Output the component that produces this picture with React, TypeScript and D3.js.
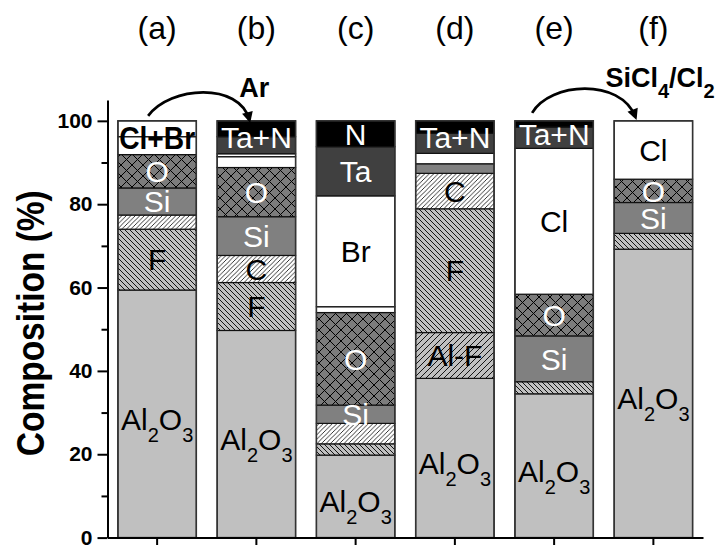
import * as d3 from "d3";
import { useRef, useEffect } from "react";

const panels = ["(a)", "(b)", "(c)", "(d)", "(e)", "(f)"];

// layers listed bottom -> top, thickness in %
const layersA = ["Al2O3", "F", "C", "Si", "O", "Cl", "Br"];
const valuesA = [59.4, 14.6, 3.4, 6.5, 8.0, 4.3, 3.8];
const labelsA = ["Al2O3", "F", "Si", "O", "Cl+Br"];

const layersB = ["Al2O3", "F", "C", "Si", "O", "Cl", "Br", "Ta", "N"];
const valuesB = [49.7, 11.5, 6.5, 9.3, 11.8, 2.6, 0.7, 4.1, 3.8];
const labelsB = ["Al2O3", "F", "C", "Si", "O", "Ta+N"];

const layersC = ["Al2O3", "F", "C", "Si", "O", "Cl", "Br", "Ta", "N"];
const valuesC = [19.8, 2.7, 4.9, 4.4, 22.2, 1.4, 26.6, 11.8, 6.2];
const labelsC = ["Al2O3", "Si", "O", "Br", "Ta", "N"];

const layersD = ["Al2O3", "Al-F", "F", "C", "Si", "Cl", "Ta", "N"];
const valuesD = [38.2, 11.0, 29.7, 8.5, 2.3, 2.5, 4.8, 3.0];
const labelsD = ["Al2O3", "Al-F", "F", "C", "Ta+N"];

const layersE = ["Al2O3", "F", "Si", "O", "Cl", "Ta", "N"];
const valuesE = [34.5, 2.9, 11.0, 10.0, 35.0, 5.1, 1.5];
const labelsE = ["Al2O3", "Si", "O", "Cl", "Ta+N"];

const layersF = ["Al2O3", "F", "Si", "O", "Cl"];
const valuesF = [69.2, 3.8, 7.4, 5.6, 14.0];
const labelsF = ["Al2O3", "Si", "O", "Cl"];

const yTicks = [0, 20, 40, 60, 80, 100];
const yMinorTicks = [10, 30, 50, 70, 90];

const bars = [
  { layers: layersA, values: valuesA, labels: labelsA },
  { layers: layersB, values: valuesB, labels: labelsB },
  { layers: layersC, values: valuesC, labels: labelsC },
  { layers: layersD, values: valuesD, labels: labelsD },
  { layers: layersE, values: valuesE, labels: labelsE },
  { layers: layersF, values: valuesF, labels: labelsF },
];

const FONT = "'Liberation Sans', Arial, Helvetica, sans-serif";

const fills: Record<string, string> = {
  Al2O3: "#c0c0c0",
  F: "url(#hatchF)",
  C: "url(#hatchC)",
  "Al-F": "url(#hatchAlF)",
  Si: "#808080",
  O: "url(#crossO)",
  Cl: "#ffffff",
  Br: "#ffffff",
  Ta: "#404040",
  N: "#000000",
};
const whiteText = ["O", "Si", "Ta", "N", "Ta+N"];

export default function App() {
  const width = 722;
  const height = 545;
  const gx = useRef<SVGGElement | null>(null);
  const gy = useRef<SVGGElement | null>(null);
  const gyMinor = useRef<SVGGElement | null>(null);

  const x = d3.scaleBand<string>().domain(panels).range([107.5, 703]).paddingInner(0.21).paddingOuter(0.105);
  const y = d3.scaleLinear([0, 105], [537.6, 100]);
  const cx = (i: number) => (x(panels[i]) as number) + x.bandwidth() / 2;
  const y100 = y(100);

  useEffect(() => {
    if (gy.current) {
      const g = d3.select(gy.current);
      g.call(d3.axisLeft(y).tickValues(yTicks).tickSize(10).tickSizeOuter(0).tickPadding(5));
      g.select(".domain").attr("stroke-width", 2);
      g.selectAll(".tick line").attr("stroke-width", 2);
      g.selectAll(".tick text")
        .attr("font-size", 21)
        .attr("font-weight", "bold")
        .attr("font-family", FONT)
        .attr("fill", "#000");
    }
    if (gyMinor.current) {
      const g = d3.select(gyMinor.current);
      g.call(d3.axisLeft(y).tickValues(yMinorTicks).tickSize(6).tickFormat(() => ""));
      g.select(".domain").remove();
      g.selectAll(".tick line").attr("stroke-width", 2);
    }
    if (gx.current) {
      const g = d3.select(gx.current);
      g.call(d3.axisBottom(x).tickSize(10).tickSizeOuter(0).tickFormat(() => ""));
      g.select(".domain").attr("stroke-width", 2);
      g.selectAll(".tick line").attr("stroke-width", 2);
    }
  }, [x, y]);

  return (
    <svg
      width={width}
      height={height}
      style={{ position: "absolute", left: 0, top: 0, background: "#fff" }}
      fontFamily={FONT}
    >
      <defs>
        <pattern id="hatchF" width="5" height="5" patternUnits="userSpaceOnUse">
          <rect width="5" height="5" fill="#c0c0c0" />
          <path d="M-1,-1 L6,6 M-1,4 L1,6 M4,-1 L6,1" stroke="#000" strokeWidth="0.9" />
        </pattern>
        <pattern id="hatchC" width="4.5" height="4.5" patternUnits="userSpaceOnUse">
          <rect width="4.5" height="4.5" fill="#fff" />
          <path d="M-1,5.5 L5.5,-1 M-1,1 L1,-1 M3.5,5.5 L5.5,3.5" stroke="#000" strokeWidth="0.8" />
        </pattern>
        <pattern id="hatchAlF" width="6" height="6" patternUnits="userSpaceOnUse">
          <rect width="6" height="6" fill="#c0c0c0" />
          <path d="M-1,7 L7,-1 M-1,1 L1,-1 M5,7 L7,5" stroke="#000" strokeWidth="0.9" />
        </pattern>
        <pattern id="crossO" width="11" height="11" patternUnits="userSpaceOnUse">
          <rect width="11" height="11" fill="#7c7c7c" />
          <path d="M0,0 L11,11 M11,0 L0,11" stroke="#000" strokeWidth="1" />
        </pattern>
        <marker
          id="arrowHead"
          viewBox="0 0 10 10"
          refX="7"
          refY="5"
          markerUnits="userSpaceOnUse"
          markerWidth="14"
          markerHeight="11"
          orient="auto"
        >
          <path d="M0,0 L10,5 L0,10 z" fill="#000" />
        </marker>
      </defs>

      {/* stacked bars */}
      {bars.map((bar, i) => {
        const tops = d3.cumsum(bar.values);
        const x0 = x(panels[i]) as number;
        const bw = x.bandwidth();
        return (
          <g key={panels[i]}>
            {bar.layers.map((layer, j) => {
              const lo = j === 0 ? 0 : tops[j - 1];
              const hi = tops[j];
              return (
                <rect
                  key={j}
                  x={x0}
                  y={y(hi)}
                  width={bw}
                  height={y(lo) - y(hi)}
                  fill={fills[layer]}
                  stroke="#111"
                  strokeWidth={1.2}
                />
              );
            })}
            <rect x={x0} y={y(100)} width={bw} height={y(0) - y(100)} fill="none" stroke="#333" strokeWidth={1.5} />
            {bar.labels.map((label) => {
              const parts = label.split("+");
              const first = bar.layers.indexOf(parts[0]);
              const last = bar.layers.indexOf(parts[parts.length - 1]);
              const lo = first === 0 ? 0 : tops[first - 1];
              const hi = tops[last];
              const mid = y((lo + hi) / 2);
              const color = whiteText.includes(label) ? "#fff" : "#000";
              const fs = 30;
              if (label === "Al2O3") {
                return (
                  <text key={label} x={cx(i)} y={mid + 0.36 * fs + 5} textAnchor="middle" fontSize={fs} fill={color}>
                    Al
                    <tspan fontSize={20} dy={12}>2</tspan>
                    <tspan dy={-12}>O</tspan>
                    <tspan fontSize={20} dy={12}>3</tspan>
                  </text>
                );
              }
              if (label === "Cl+Br") {
                return (
                  <text
                    key={label}
                    x={cx(i)}
                    y={mid + 0.36 * 31}
                    textAnchor="middle"
                    fontSize={31}
                    fontWeight="bold"
                    fill={color}
                    textLength={76}
                    lengthAdjust="spacingAndGlyphs"
                  >
                    {label}
                  </text>
                );
              }
              return (
                <text key={label} x={cx(i)} y={mid + 0.36 * fs} textAnchor="middle" fontSize={fs} fill={color}>
                  {label}
                </text>
              );
            })}
          </g>
        );
      })}

      {/* axes */}
      <g ref={gx} transform={`translate(0,${y(0)})`} />
      <g ref={gy} transform={`translate(107.5,0)`} />
      <g ref={gyMinor} transform={`translate(107.5,0)`} />

      <text
        transform={`translate(43.5,${(y(0) + y(100)) / 2 - 6}) rotate(-90)`}
        textAnchor="middle"
        fontSize={38}
        fontWeight="bold"
        textLength={266}
        lengthAdjust="spacingAndGlyphs"
      >
        Composition (%)
      </text>

      {/* panel letters */}
      {panels.map((p, i) => (
        <text key={p} x={cx(i)} y={39} textAnchor="middle" fontSize={32}>
          {p}
        </text>
      ))}

      {/* process arrows */}
      <path
        d={`M${cx(0) - 9},${y100 - 5} C${cx(0) + 13},${y100 - 35} ${cx(1) - 17},${y100 - 39} ${cx(1) - 7},${y100 - 1}`}
        fill="none"
        stroke="#000"
        strokeWidth={2.7}
        markerEnd="url(#arrowHead)"
      />
      <text x={cx(1) - 2} y={y100 - 24} textAnchor="middle" fontSize={27} fontWeight="bold">
        Ar
      </text>
      <path
        d={`M${cx(4) - 22},${y100 - 8} C${cx(4) - 4},${y100 - 39} ${cx(5) - 33},${y100 - 43} ${cx(5) - 18},${y100 - 4}`}
        fill="none"
        stroke="#000"
        strokeWidth={2.7}
        markerEnd="url(#arrowHead)"
      />
      <text x={cx(5) - 48} y={y100 - 34} fontSize={27} fontWeight="bold">
        SiCl
        <tspan fontSize={20} dy={11}>4</tspan>
        <tspan dy={-11}>/Cl</tspan>
        <tspan fontSize={20} dy={11}>2</tspan>
      </text>
    </svg>
  );
}
